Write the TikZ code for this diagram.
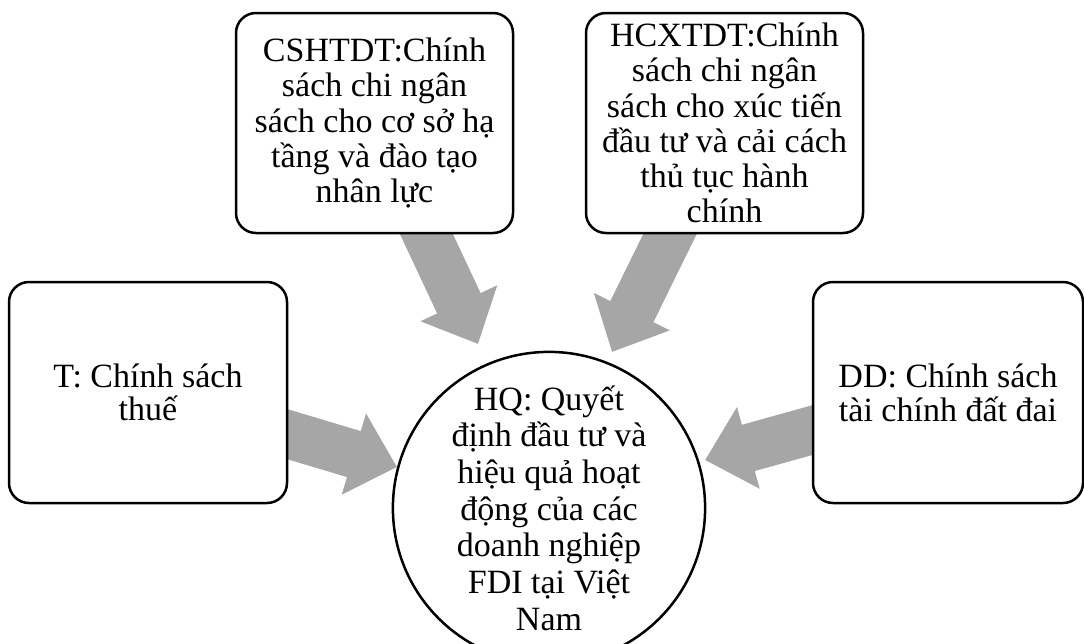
\documentclass[tikz,border=0pt]{standalone}
\usepackage{fontspec}
\setmainfont{Liberation Serif}
\usepackage{tikz}
\usetikzlibrary{arrows.meta, backgrounds}
\definecolor{arrowgrey}{HTML}{A6A6A6}
\tikzset{
  policy/.style={draw, line width=2.5pt, rounded corners=20pt, fill=white, align=center,
    minimum width=277pt, minimum height=220pt, inner sep=0pt, font=\fontsize{34}{35.3}\selectfont},
  outcome/.style={draw, circle, line width=2.5pt, fill=white, align=center,
    minimum size=288pt, inner sep=0pt, font=\fontsize{34}{36.7}\selectfont},
  flow/.style={draw=arrowgrey, line width=48pt, -{Triangle[length=45pt, width=82pt]}, shorten <=-30pt}
}

\begin{document}
\begin{tikzpicture}[x=1pt, y=-1pt]
  \useasboundingbox (0,0) rectangle (1084,643);
  % boxes
  \node[policy] (cs) at (374.5,123) {CSHTDT:Chính\\sách chi ngân\\sách cho cơ sở hạ\\tầng và đào tạo\\nhân lực};
  \node[policy] (hc) at (724.5,123) {HCXTDT:Chính\\sách chi ngân\\sách cho xúc tiến\\đầu tư và cải cách\\thủ tục hành\\chính};
  \node[policy, minimum width=278pt, minimum height=221pt, font=\fontsize{34}{33.5}\selectfont] (t) at (148,392.5) {T: Chính sách\\thuế};
  \node[policy, minimum width=270pt, minimum height=221pt, font=\fontsize{34}{34}\selectfont] (dd) at (948,392.5) {DD: Chính sách\\tài chính đất đai};
  \node[outcome] (hq) at (549,508) {HQ: Quyết\\định đầu tư và\\hiệu quả hoạt\\động của các\\doanh nghiệp\\FDI tại Việt\\Nam};
  % arrow tips
  \coordinate (tipcs) at (478,344);
  \coordinate (tiphc) at (612,352);
  \coordinate (tipt) at (397,467);
  \coordinate (tipdd) at (705,460);
  \begin{scope}[on background layer]
    \draw[flow] (cs) -- (tipcs);
    \draw[flow] (hc) -- (tiphc);
    \draw[flow] (t) -- (tipt);
    \draw[flow] (dd) -- (tipdd);
  \end{scope}
\end{tikzpicture}
\end{document}
